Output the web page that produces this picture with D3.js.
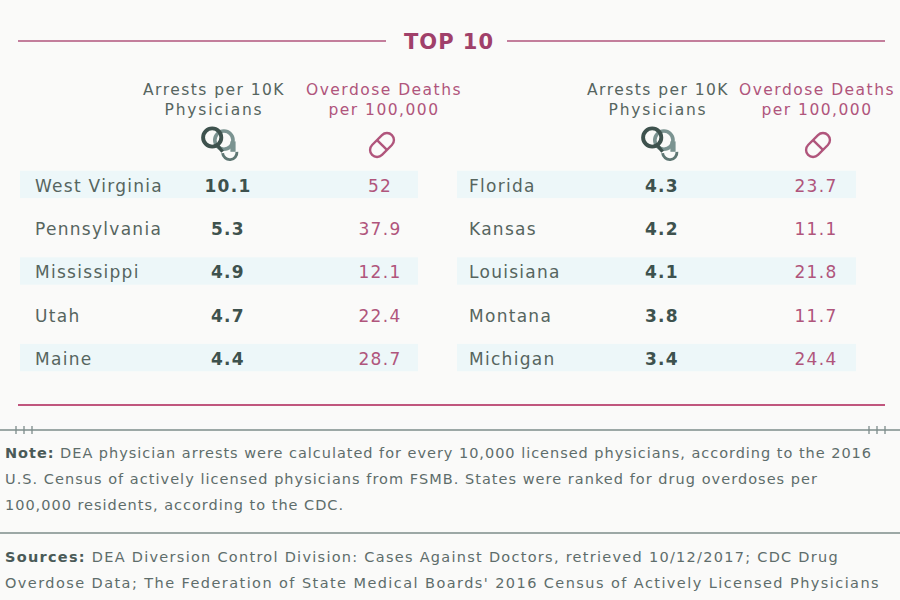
<!DOCTYPE html>
<html>
<head>
<meta charset="utf-8">
<script src="https://cdn.jsdelivr.net/npm/d3@7"></script>
<style>
  html, body { margin: 0; padding: 0; background: #fafaf9; }
  svg { display: block; }
</style>
</head>
<body>
<svg id="chart" width="900" height="600"></svg>
<script>
// ---- data ----
const title = "TOP 10";
const arrestsHeader = ["Arrests per 10K", "Physicians"];
const overdoseHeader = ["Overdose Deaths", "per 100,000"];
const states = ["West Virginia", "Pennsylvania", "Mississippi", "Utah", "Maine",
                "Florida", "Kansas", "Louisiana", "Montana", "Michigan"];
const arrests = [10.1, 5.3, 4.9, 4.7, 4.4, 4.3, 4.2, 4.1, 3.8, 3.4];
const overdoses = ["52", "37.9", "12.1", "22.4", "28.7", "23.7", "11.1", "21.8", "11.7", "24.4"];
const noteLabel = "Note:";
const noteLines = [
  " DEA physician arrests were calculated for every 10,000 licensed physicians, according to the 2016",
  "U.S. Census of actively licensed physicians from FSMB. States were ranked for drug overdoses per",
  "100,000 residents, according to the CDC."
];
const sourcesLabel = "Sources:";
const sourceLines = [
  " DEA Diversion Control Division: Cases Against Doctors, retrieved 10/12/2017; CDC Drug",
  "Overdose Data; The Federation of State Medical Boards' 2016 Census of Actively Licensed Physicians"
];

// ---- style ----
const FONT = "'DejaVu Sans', 'Noto Sans', sans-serif";
const pink = "#b0557c";
const pinkTitle = "#a0406a";
const grey = "#56655f";
const darkGreen = "#3e524e";
const rowFill = "#edf7f9";

const svg = d3.select("#chart");
svg.append("rect").attr("width", 900).attr("height", 600).attr("fill", "#fafaf9");

// stretch letter-spacing so a text reaches a target width
function fit(sel, w) {
  sel.attr("letter-spacing", 0);
  const node = sel.node();
  const nat = node.getComputedTextLength();
  const n = node.textContent.length;
  const ls = (w - nat) / n;
  sel.attr("letter-spacing", ls);
  return ls;
}

// title + rules
svg.append("line").attr("x1", 18).attr("x2", 386).attr("y1", 41).attr("y2", 41)
  .attr("stroke", pink).attr("stroke-width", 1.3);
svg.append("line").attr("x1", 507).attr("x2", 885).attr("y1", 41).attr("y2", 41)
  .attr("stroke", pink).attr("stroke-width", 1.3);
const t = svg.append("text").attr("x", 449).attr("y", 49).attr("text-anchor", "middle")
  .attr("font-family", FONT).attr("font-weight", "bold").attr("font-size", 21)
  .attr("fill", pinkTitle).text(title);
fit(t, 90);

// panels
const panels = [
  { x0: 20, x1: 418, nameX: 35, arrX: 228, odX: 380, hArrX: 214, hOdX: 384, iconArrX: 220, iconOdX: 382 },
  { x0: 457, x1: 856, nameX: 469, arrX: 662, odX: 816, hArrX: 658, hOdX: 817, iconArrX: 660, iconOdX: 818 }
];
const headerWidths = { arr: [142, 99], od: [156, 111] };

const y = d3.scaleBand().domain(d3.range(5)).range([163, 379]).paddingInner(0.37).paddingOuter(0.18);

function handcuffs(g, cx, cy) {
  const h = g.append("g").attr("transform", `translate(${cx},${cy}) scale(1.3)`);
  // right cuff (lighter)
  h.append("circle").attr("cx", 3).attr("cy", -3).attr("r", 7).attr("fill", "none")
    .attr("stroke", "#7b9391").attr("stroke-width", 2.8);
  h.append("path").attr("d", "M2,7 A5.5,5.5 0 0 0 13,6").attr("fill", "none")
    .attr("stroke", "#5e7673").attr("stroke-width", 2.2);
  h.append("rect").attr("x", 8).attr("y", -2).attr("width", 4).attr("height", 8).attr("fill", "#7b9391");
  // left cuff (dark)
  h.append("circle").attr("cx", -6).attr("cy", -5).attr("r", 7).attr("fill", "none")
    .attr("stroke", darkGreen).attr("stroke-width", 3);
  h.append("path").attr("d", "M-2,1 L2,6").attr("stroke", darkGreen).attr("stroke-width", 2.6);
}
function pill(g, cx, cy) {
  const p = g.append("g").attr("transform", `translate(${cx},${cy}) rotate(-45)`);
  p.append("rect").attr("x", -14).attr("y", -7).attr("width", 28).attr("height", 14)
    .attr("rx", 7).attr("fill", "none").attr("stroke", pink).attr("stroke-width", 2.4);
  p.append("line").attr("x1", 0).attr("x2", 0).attr("y1", -7).attr("y2", 7)
    .attr("stroke", pink).attr("stroke-width", 2.4);
}

let nameLS = null;
panels.forEach((p, pi) => {
  const g = svg.append("g");
  arrestsHeader.forEach((tx, i) => {
    const s = g.append("text").attr("x", p.hArrX).attr("y", 95 + i * 20).attr("text-anchor", "middle")
      .attr("font-family", FONT).attr("font-size", 15.5)
      .attr("fill", grey).text(tx);
    fit(s, headerWidths.arr[i]);
  });
  overdoseHeader.forEach((tx, i) => {
    const s = g.append("text").attr("x", p.hOdX).attr("y", 95 + i * 20).attr("text-anchor", "middle")
      .attr("font-family", FONT).attr("font-size", 15.5)
      .attr("fill", pink).text(tx);
    fit(s, headerWidths.od[i]);
  });
  handcuffs(g, p.iconArrX, 144);
  pill(g, p.iconOdX, 145);

  const idx = d3.range(5);
  const rows = g.selectAll("g.row").data(idx).join("g").attr("class", "row")
    .attr("transform", i => `translate(0,${y(i)})`);
  rows.filter(i => i % 2 === 0).append("rect")
    .attr("x", p.x0).attr("width", p.x1 - p.x0).attr("height", y.bandwidth()).attr("fill", rowFill);
  const cy = y.bandwidth() / 2 + 7.5;
  const names = rows.append("text").attr("x", p.nameX).attr("y", cy)
    .attr("font-family", FONT).attr("font-size", 17)
    .attr("fill", grey).text(i => states[pi * 5 + i]);
  if (nameLS === null) nameLS = fit(d3.select(names.nodes()[0]), 128);
  names.attr("letter-spacing", nameLS);
  rows.append("text").attr("x", p.arrX).attr("y", cy).attr("text-anchor", "middle")
    .attr("font-family", FONT).attr("font-size", 17).attr("font-weight", "bold").attr("letter-spacing", nameLS)
    .attr("fill", darkGreen).text(i => arrests[pi * 5 + i].toFixed(1));
  rows.append("text").attr("x", p.odX).attr("y", cy).attr("text-anchor", "middle")
    .attr("font-family", FONT).attr("font-size", 17).attr("letter-spacing", nameLS)
    .attr("fill", pink).text(i => overdoses[pi * 5 + i]);
});

// bottom rules
svg.append("line").attr("x1", 18).attr("x2", 885).attr("y1", 405).attr("y2", 405)
  .attr("stroke", "#c0567e").attr("stroke-width", 2);
svg.append("line").attr("x1", 0).attr("x2", 900).attr("y1", 430).attr("y2", 430)
  .attr("stroke", "#7d8c8a").attr("stroke-width", 1.3);
svg.append("line").attr("x1", 0).attr("x2", 900).attr("y1", 533).attr("y2", 533)
  .attr("stroke", "#7d8c8a").attr("stroke-width", 1.3);
[16, 24, 32, 869, 877, 885].forEach(x => {
  svg.append("line").attr("x1", x).attr("x2", x).attr("y1", 426).attr("y2", 434)
    .attr("stroke", "#7d8c8a").attr("stroke-width", 1.3);
});

// notes
function para(label, lines, y0, widths) {
  lines.forEach((tx, i) => {
    const txt = svg.append("text").attr("x", 5).attr("y", y0 + i * 26)
      .attr("font-family", FONT).attr("font-size", 14.5)
      .attr("fill", "#5e6d6b");
    if (i === 0) {
      txt.append("tspan").attr("font-weight", "bold").attr("fill", "#4a5a58").text(label);
    }
    txt.append("tspan").text(tx);
    fit(txt, widths[i]);
  });
}
para(noteLabel, noteLines, 458, [867, 813, 339]);
para(sourcesLabel, sourceLines, 562, [834, 875]);
</script>
</body>
</html>
